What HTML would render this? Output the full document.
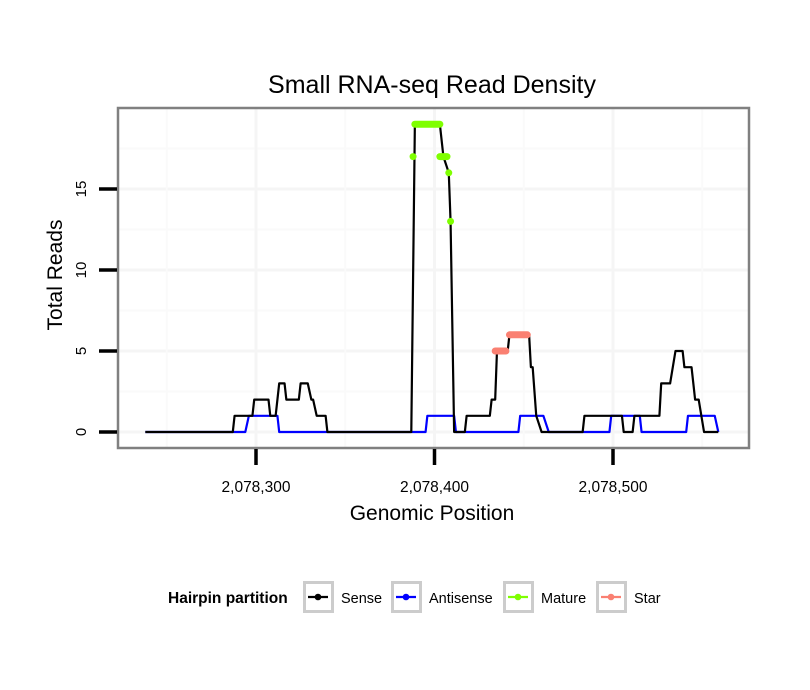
<!DOCTYPE html>
<html><head><meta charset="utf-8"><style>
body{margin:0;background:#fff;}
svg{display:block;font-family:"Liberation Sans",sans-serif;}
</style></head><body>
<svg id="chart" width="810" height="690">
<text x="432" y="93" font-size="25" text-anchor="middle">Small RNA-seq Read Density</text>
<rect x="118" y="108" width="631" height="340" fill="#fff"/>
<g id="grid"></g>
<g id="series"></g>
<rect x="118" y="108" width="631" height="340" fill="none" stroke="#808080" stroke-width="2.5"/>
<g id="axes"></g>
<text x="432" y="520" font-size="21" text-anchor="middle">Genomic Position</text>
<text transform="translate(62,275) rotate(-90)" font-size="21" text-anchor="middle">Total Reads</text>
<g id="legend">
<text x="168" y="603" font-size="15.5" font-weight="bold">Hairpin partition</text>
</g>
</svg>
<script>
const sensePos=[2078238,2078287,2078288,2078298,2078299,2078307,2078308,2078311,2078313,2078316,2078317,2078324,2078325,2078329,2078331,2078332,2078334,2078339,2078340,2078387,2078389,2078403,2078405,2078408,2078409,2078411,2078417,2078418,2078431,2078432,2078434,2078435,2078441,2078442,2078453,2078454,2078455,2078457,2078460,2078483,2078484,2078505,2078506,2078511,2078512,2078526,2078527,2078532,2078535,2078539,2078540,2078544,2078546,2078548,2078551,2078559];
const senseVal=[0,0,1,1,2,2,1,1,3,3,2,2,3,3,2,2,1,1,0,0,19,19,17,16,13,0,0,1,1,2,2,5,5,6,6,4,4,1,0,0,1,1,0,0,1,1,3,3,5,5,4,4,2,2,0,0];
const antiPos=[2078238,2078294,2078296,2078312,2078313,2078395,2078396,2078411,2078412,2078447,2078448,2078461,2078464,2078498,2078499,2078515,2078516,2078541,2078542,2078557,2078559];
const antiVal=[0,0,1,1,0,0,1,1,0,0,1,1,0,0,1,1,0,0,1,1,0];
const matureSegStart=[2078389,2078388,2078403,2078408,2078409];
const matureSegEnd=[2078403,2078388,2078407,2078408,2078409];
const matureSegVal=[19,17,17,16,13];
const starSegStart=[2078434,2078442];
const starSegEnd=[2078440,2078452];
const starSegVal=[5,6];
const xTicks=[2078300,2078400,2078500];
const xTickLabels=["2,078,300","2,078,400","2,078,500"];
const yTicks=[0,5,10,15];
const legendLabels=["Sense","Antisense","Mature","Star"];
const legendColors=["#000000","#0000ff","#7fff00","#fa8072"];

const NS="http://www.w3.org/2000/svg";
const X=v=>256+(v-2078300)*1.785;
const Y=v=>432-v*16.2;
function mk(tag,attrs,parent){const e=document.createElementNS(NS,tag);for(const k in attrs)e.setAttribute(k,attrs[k]);parent.appendChild(e);return e;}
const grid=document.getElementById('grid'),ser=document.getElementById('series'),axes=document.getElementById('axes'),leg=document.getElementById('legend');
[-2.5,0,2.5,5,7.5,10,12.5,15,17.5].forEach(v=>{const y=Y(v);if(y<109||y>447)return;
const l=mk('line',{x1:119,x2:748,y1:y,y2:y,stroke:v%5===0?'#f5f5f5':'#fafafa','stroke-width':v%5===0?3:2},grid);

});
[2078250,2078300,2078350,2078400,2078450,2078500,2078550].forEach(v=>{const x=X(v);
const l=mk('line',{x1:x,x2:x,y1:109,y2:447,stroke:v%100===0?'#f5f5f5':'#fafafa','stroke-width':v%100===0?3:2},grid);

});
function poly(pos,val,color,name){const p=pos.map((v,i)=>X(v)+','+Y(val[i])).join(' ');
const e=mk('polyline',{points:p,fill:'none',stroke:color,'stroke-width':2.2,'stroke-linejoin':'round'},ser);

}
poly(antiPos,antiVal,'#0000ff','antisense-line');
poly(sensePos,senseVal,'#000000','sense-line');
function segs(s,e,v,color,name){s.forEach((a,i)=>{
const l=mk('line',{x1:X(a),x2:X(e[i]),y1:Y(v[i]),y2:Y(v[i]),stroke:color,'stroke-width':7,'stroke-linecap':'round'},ser);

});}
segs(matureSegStart,matureSegEnd,matureSegVal,'#7fff00','mature-segment');
segs(starSegStart,starSegEnd,starSegVal,'#fa8072','star-segment');
yTicks.forEach(v=>{const y=Y(v);
const t=mk('line',{x1:99,x2:117,y1:y,y2:y,stroke:'#000','stroke-width':3.5},axes);


const tx=mk('text',{transform:`translate(86,${y}) rotate(-90)`,'font-size':15,'text-anchor':'middle'},axes);
tx.textContent=v;

});
xTicks.forEach((v,i)=>{const x=X(v);
const t=mk('line',{x1:x,x2:x,y1:449,y2:465,stroke:'#000','stroke-width':3.5},axes);


const tx=mk('text',{x:x,y:492,'font-size':15.5,'text-anchor':'middle'},axes);
tx.textContent=xTickLabels[i];

});
const boxX=[303,391,503,596];
legendLabels.forEach((lab,i)=>{const bx=boxX[i];
const g=mk('g',{},leg);


mk('rect',{x:bx+1.5,y:582.5,width:28,height:29,fill:'#fff',stroke:'#cccccc','stroke-width':3},g);
mk('line',{x1:bx+5,x2:bx+25,y1:597,y2:597,stroke:legendColors[i],'stroke-width':2.2},g);
mk('circle',{cx:bx+15,cy:597,r:3.3,fill:legendColors[i]},g);
const t=mk('text',{x:bx+38,y:603,'font-size':14.5},g);t.textContent=lab;});
</script>
</body></html>
